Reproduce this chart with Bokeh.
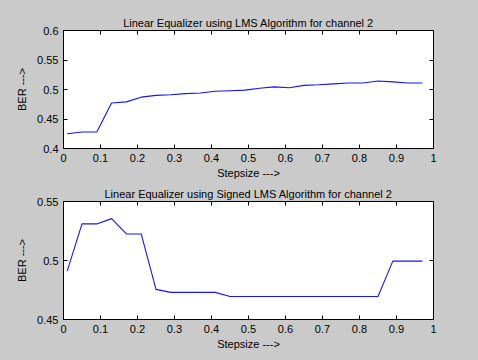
from bokeh.plotting import figure
from bokeh.layouts import column
from bokeh.models import LinearAxis, FixedTicker, CustomJSTickFormatter, Range1d
from bokeh.embed import file_html
from bokeh.resources import INLINE

stepsize = [0.01, 0.05, 0.09, 0.13, 0.17, 0.21, 0.25, 0.29, 0.33, 0.37, 0.41, 0.45, 0.49,
            0.53, 0.57, 0.61, 0.65, 0.69, 0.73, 0.77, 0.81, 0.85, 0.89, 0.93, 0.97]
ber_lms = [0.425, 0.428, 0.428, 0.477, 0.479, 0.487, 0.490, 0.491, 0.493, 0.494, 0.497, 0.498,
           0.499, 0.502, 0.5045, 0.503, 0.507, 0.508, 0.5095, 0.511, 0.511, 0.5145, 0.513, 0.511, 0.511]
ber_slms = [0.491, 0.531, 0.531, 0.5355, 0.5225, 0.5225, 0.4755, 0.473, 0.473, 0.473, 0.473,
            0.4695, 0.4695, 0.4695, 0.4695, 0.4695, 0.4695, 0.4695, 0.4695, 0.4695, 0.4695, 0.4695,
            0.4995, 0.4995, 0.4995]
x_ticks = [0, 0.1, 0.2, 0.3, 0.4, 0.5, 0.6, 0.7, 0.8, 0.9, 1]
y_ticks_top = [0.4, 0.45, 0.5, 0.55, 0.6]
y_ticks_bot = [0.45, 0.5, 0.55]

BG = "#cacaca"
FONT = "Liberation Sans"
fmt = "return String(Math.round(tick*100)/100);"


def make(title, ys, yr, yticks, height, top_border, bottom_border):
    p = figure(width=478, height=height, output_backend="svg", toolbar_location=None,
               x_range=Range1d(0, 1), y_range=Range1d(*yr),
               frame_width=370, frame_height=118,
               min_border_left=63, min_border_right=45,
               min_border_top=top_border, min_border_bottom=bottom_border,
               background_fill_color="white", border_fill_color=BG,
               outline_line_color="black")
    p.title.text = title
    p.title.align = "center"
    p.title.text_font = FONT
    p.title.text_font_size = "11px"
    p.title.text_font_style = "normal"
    p.title.text_color = "black"
    p.title.standoff = 3
    p.xgrid.visible = False
    p.ygrid.visible = False
    p.line(stepsize, ys, line_color="#1515f0", line_width=1.1)

    for ax in p.xaxis:
        ax.ticker = FixedTicker(ticks=x_ticks)
        ax.axis_label = "Stepsize --->"
    for ax in p.yaxis:
        ax.ticker = FixedTicker(ticks=yticks)
        ax.axis_label = "BER --->"
    for ax in list(p.xaxis) + list(p.yaxis):
        ax.formatter = CustomJSTickFormatter(code=fmt)
        ax.major_tick_in = 4
        ax.major_tick_out = 0
        ax.minor_tick_line_color = None
        ax.axis_line_color = "black"
        ax.major_label_text_font = FONT
        ax.major_label_text_font_size = "11px"
        ax.major_label_text_color = "black"
        ax.major_label_standoff = 5
        ax.axis_label_text_font = FONT
        ax.axis_label_text_font_size = "11px"
        ax.axis_label_text_font_style = "normal"
        ax.axis_label_text_color = "black"
    for ax in p.xaxis:
        ax.axis_label_standoff = 2
    for ax in p.yaxis:
        ax.axis_label_standoff = 6

    blank = "return '';"
    right = LinearAxis(ticker=FixedTicker(ticks=yticks), formatter=CustomJSTickFormatter(code=blank),
                       major_label_standoff=0, major_tick_in=4, major_tick_out=0,
                       minor_tick_line_color=None, axis_line_color="black")
    above = LinearAxis(ticker=FixedTicker(ticks=x_ticks), formatter=CustomJSTickFormatter(code=blank),
                       major_label_standoff=0, major_tick_in=4, major_tick_out=0,
                       minor_tick_line_color=None, axis_line_color="black")
    p.add_layout(right, "right")
    p.add_layout(above, "above")
    return p


p1 = make("Linear Equalizer using LMS Algorithm for channel 2", ber_lms, (0.4, 0.6), y_ticks_top, 180, 30, 32)
p2 = make("Linear Equalizer using Signed LMS Algorithm for channel 2", ber_slms, (0.45, 0.55), y_ticks_bot, 180, 20, 42)

layout = column(p1, p2, spacing=0, background=BG)
html = file_html(layout, INLINE)
html = html.replace("<body>", '<body style="background:%s">' % BG)
open("out.html", "w").write(html)
